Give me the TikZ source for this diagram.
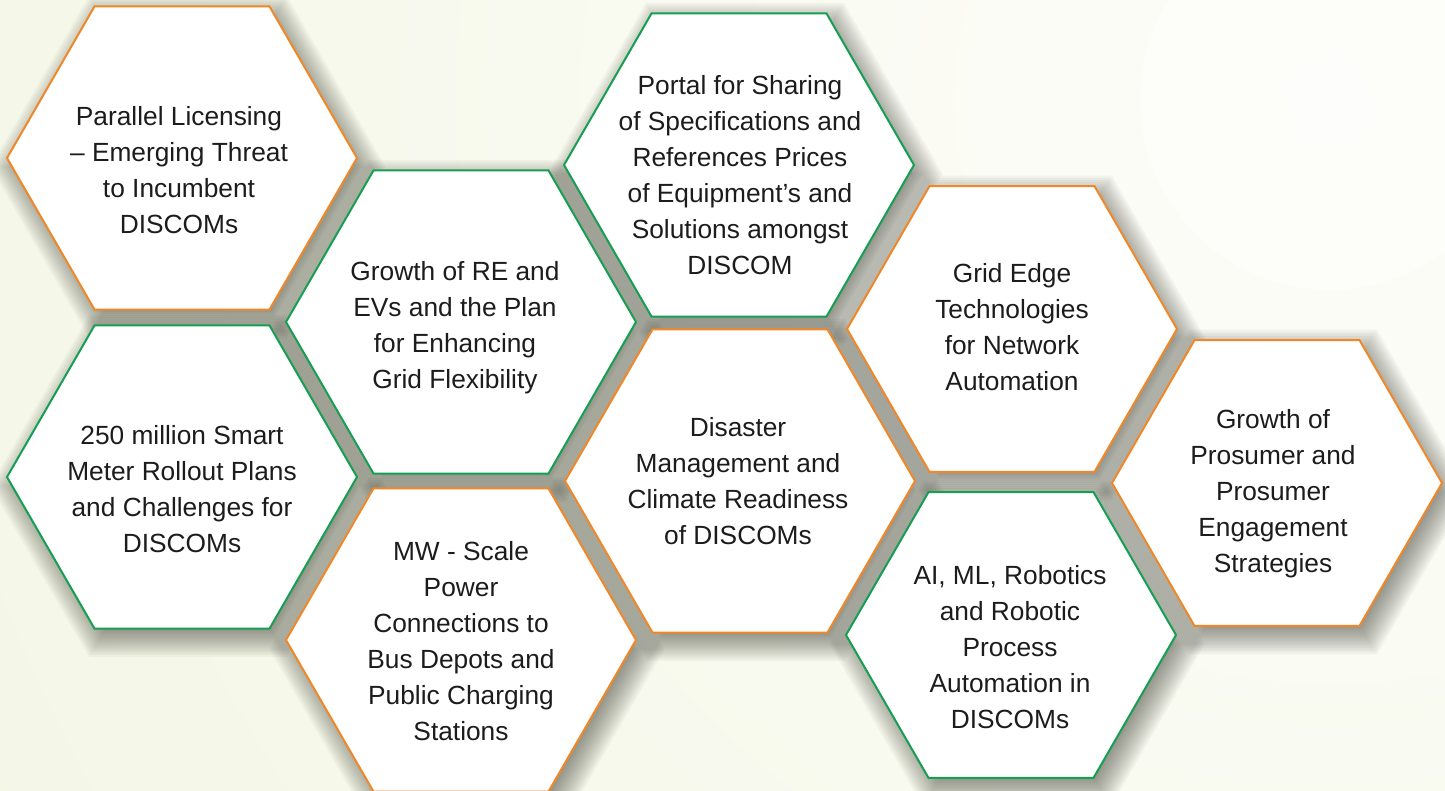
\documentclass[tikz,border=0pt]{standalone}
\usepackage{fontspec}
\setmainfont{Liberation Sans}
\usetikzlibrary{shapes.geometric}
\definecolor{hexorange}{RGB}{240,135,40}
\definecolor{hexgreen}{RGB}{22,158,82}
\definecolor{bggreen}{RGB}{238,243,218}
\definecolor{bgwhite}{RGB}{253,253,249}
\definecolor{txtcol}{RGB}{28,28,28}
\definecolor{shadowcol}{RGB}{40,42,30}
\newcommand\myhexshadow[3]{%
  \foreach \k in {0,...,13}{%
    \fill[shadowcol, opacity=0.045, shift={(#1+6,#2+9)}]
      (0:{#3-10+2.5*\k}) -- (60:{#3-10+2.5*\k}) -- (120:{#3-10+2.5*\k})
      -- (180:{#3-10+2.5*\k}) -- (240:{#3-10+2.5*\k}) -- (300:{#3-10+2.5*\k}) -- cycle;
  }%
}
\begin{document}
\begin{tikzpicture}[x=1pt,y=-1pt,
  hexbase/.style={regular polygon, regular polygon sides=6, inner sep=0pt, outer sep=0pt},
  hexbig/.style={minimum size=350pt},
  hexsmall/.style={minimum size=330pt},
  ohex/.style={hexbase, fill=white, draw=hexorange, line width=2pt},
  ghex/.style={hexbase, fill=white, draw=hexgreen, line width=2pt},
  hextext/.style={align=center, inner sep=0pt, text=txtcol, font=\fontsize{26.3}{36}\selectfont}]
% background
\useasboundingbox (0,0) rectangle (1445,791);
\fill[bggreen] (0,0) rectangle (1445,791);
\begin{scope}
  \clip (0,0) rectangle (1445,791);
  \shade[inner color=bgwhite, outer color=bggreen] (1330,100) circle (2500);
  \fill[white, opacity=0.35] (1330,100) circle (190);
  % soft shadows
  \myhexshadow{182}{158}{175}
  \myhexshadow{182}{477}{175}
  \myhexshadow{461}{322}{175}
  \myhexshadow{461}{640}{175}
  \myhexshadow{739}{165}{175}
  \myhexshadow{740}{481}{175}
  \myhexshadow{1012}{329}{165}
  \myhexshadow{1011}{635}{165}
  \myhexshadow{1277}{483}{165}
\end{scope}
% hexagons
\node[ohex, hexbig] (h1) at (182,158) {};
\node[ghex, hexbig] (h2) at (182,477) {};
\node[ghex, hexbig] (h3) at (461,322) {};
\node[ohex, hexbig] (h4) at (461,640) {};
\node[ghex, hexbig] (h5) at (739,165) {};
\node[ohex, hexbig] (h6) at (740,481) {};
\node[ohex, hexsmall] (h7) at (1012,329) {};
\node[ghex, hexsmall] (h8) at (1011,635) {};
\node[ohex, hexsmall] (h9) at (1277,483) {};
% texts
\node[hextext] (t1) at (179,170) {Parallel Licensing\\– Emerging Threat\\to Incumbent\\DISCOMs};
\node[hextext] (t2) at (182,489) {250 million Smart\\Meter Rollout Plans\\and Challenges for\\DISCOMs};
\node[hextext] (t3) at (455,328) {Growth of RE and\\EVs and the Plan\\for Enhancing\\Grid Flexibility};
\node[hextext] (t4) at (461,641) {MW - Scale\\Power\\Connections to\\Bus Depots and\\Public Charging\\Stations};
\node[hextext] (t5) at (740,175) {Portal for Sharing\\of Specifications and\\References Prices\\of Equipment’s and\\Solutions amongst\\DISCOM};
\node[hextext] (t6) at (738,481) {Disaster\\Management and\\Climate Readiness\\of DISCOMs};
\node[hextext] (t7) at (1012,327) {Grid Edge\\Technologies\\for Network\\Automation};
\node[hextext] (t8) at (1010,647) {AI, ML, Robotics\\and Robotic\\Process\\Automation in\\DISCOMs};
\node[hextext] (t9) at (1273,494) {Growth of\\Prosumer and\\Prosumer\\Engagement\\Strategies};
\end{tikzpicture}
\end{document}
